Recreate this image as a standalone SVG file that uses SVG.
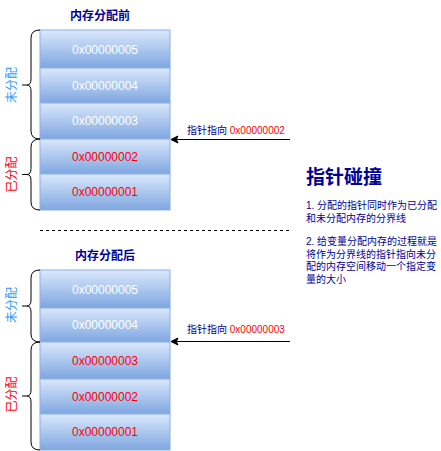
<svg xmlns="http://www.w3.org/2000/svg" width="441" height="451" viewBox="0 0 441 451">
<defs>
<linearGradient id="g" x1="0" y1="0" x2="0" y2="1">
<stop offset="0" stop-color="#dae8fc"/>
<stop offset="1" stop-color="#7ea6e0"/>
</linearGradient>
<style>
text{font-family:"Liberation Sans","Noto Sans CJK SC",sans-serif;}
.box{fill:url(#g);stroke:#8eaee3;stroke-width:1;}
.addr{font-size:12px;text-anchor:middle;}
.w{fill:#ffffff;}
.r{fill:#ff0000;}
.navy{fill:#000099;}
.title{font-size:12px;font-weight:bold;text-anchor:middle;fill:#000099;}
.brace{fill:none;stroke:#000;stroke-width:1;}
.vl{font-size:12px;text-anchor:middle;}
.lbl{font-size:10px;}
.body{font-size:10px;fill:#000099;}
</style>
</defs>
<rect width="441" height="451" fill="#ffffff"/>

<g id="title-before"><text class="title" x="100" y="19.5">内存分配前</text></g>
<g id="title-after"><text class="title" x="105" y="259.5">内存分配后</text></g>

<g id="before-5"><rect class="box" x="40" y="30" width="130" height="38"/><text class="addr w" x="105" y="53.5">0x00000005</text></g>
<g id="before-4"><rect class="box" x="40" y="68" width="130" height="35"/><text class="addr w" x="105" y="89.5">0x00000004</text></g>
<g id="before-3"><rect class="box" x="40" y="103" width="130" height="36"/><text class="addr w" x="105" y="125">0x00000003</text></g>
<g id="before-2"><rect class="box" x="40" y="139" width="130" height="35"/><text class="addr r" x="105" y="160.5">0x00000002</text></g>
<g id="before-1"><rect class="box" x="40" y="174" width="130" height="36"/><text class="addr r" x="105" y="196">0x00000001</text></g>

<g id="after-5"><rect class="box" x="40" y="270" width="130" height="38"/><text class="addr w" x="105" y="293.5">0x00000005</text></g>
<g id="after-4"><rect class="box" x="40" y="308" width="130" height="34"/><text class="addr w" x="105" y="329">0x00000004</text></g>
<g id="after-3"><rect class="box" x="40" y="342" width="130" height="37"/><text class="addr r" x="105" y="364.5">0x00000003</text></g>
<g id="after-2"><rect class="box" x="40" y="379" width="130" height="35"/><text class="addr r" x="105" y="400.5">0x00000002</text></g>
<g id="after-1"><rect class="box" x="40" y="414" width="130" height="36"/><text class="addr r" x="105" y="436">0x00000001</text></g>

<g id="braces">
<path class="brace" d="M40,30 Q31,30 31,38 L31,79 Q31,85 27,85 L22,85 M27,85 Q31,85 31,91 L31,131 Q31,139 40,139"/>
<path class="brace" d="M40,139 Q31,139 31,147 L31,168.5 Q31,174.5 27,174.5 L22,174.5 M27,174.5 Q31,174.5 31,180.5 L31,202 Q31,210 40,210"/>
<path class="brace" d="M40,270 Q31,270 31,278 L31,300 Q31,306 27,306 L22,306 M27,306 Q31,306 31,312 L31,334 Q31,342 40,342"/>
<path class="brace" d="M40,342 Q31,342 31,350 L31,390 Q31,396 27,396 L22,396 M27,396 Q31,396 31,402 L31,442 Q31,450 40,450"/>
</g>

<g id="label-unalloc-before"><text class="vl" fill="#3399ff" transform="translate(16,85) rotate(-90)">未分配</text></g>
<g id="label-alloc-before"><text class="vl r" transform="translate(16,174.5) rotate(-90)">已分配</text></g>
<g id="label-unalloc-after"><text class="vl" fill="#3399ff" transform="translate(16,305) rotate(-90)">未分配</text></g>
<g id="label-alloc-after"><text class="vl r" transform="translate(16,394.5) rotate(-90)">已分配</text></g>

<g id="connectors">
<line x1="290" y1="139.5" x2="176" y2="139.5" stroke="#000" stroke-width="1"/>
<path d="M171,139.5 L178,136 L176.3,139.5 L178,143 Z" fill="#000" stroke="#000" stroke-width="1"/>
<line x1="290" y1="341.5" x2="176" y2="341.5" stroke="#000" stroke-width="1"/>
<path d="M171,341.5 L178,338 L176.3,341.5 L178,345 Z" fill="#000" stroke="#000" stroke-width="1"/>
<line x1="40" y1="230.5" x2="290" y2="230.5" stroke="#000" stroke-width="1" stroke-dasharray="3,3"/>
</g>

<g id="pointer-label-before"><text class="lbl" x="187" y="133.5"><tspan class="navy">指针指向 </tspan><tspan class="r">0x00000002</tspan></text></g>
<g id="pointer-label-after"><text class="lbl" x="187" y="332.5"><tspan class="navy">指针指向 </tspan><tspan class="r">0x00000003</tspan></text></g>

<g id="description">
<text x="306" y="184" font-size="19" font-weight="bold" fill="#000099">指针碰撞</text>
<text class="body" x="306" y="209">1. 分配的指针同时作为已分配</text>
<text class="body" x="306" y="222">和未分配内存的分界线</text>
<text class="body" x="306" y="245">2. 给变量分配内存的过程就是</text>
<text class="body" x="306" y="257.5">将作为分界线的指针指向未分</text>
<text class="body" x="306" y="270">配的内存空间移动一个指定变</text>
<text class="body" x="306" y="282.5">量的大小</text>
</g>
</svg>
